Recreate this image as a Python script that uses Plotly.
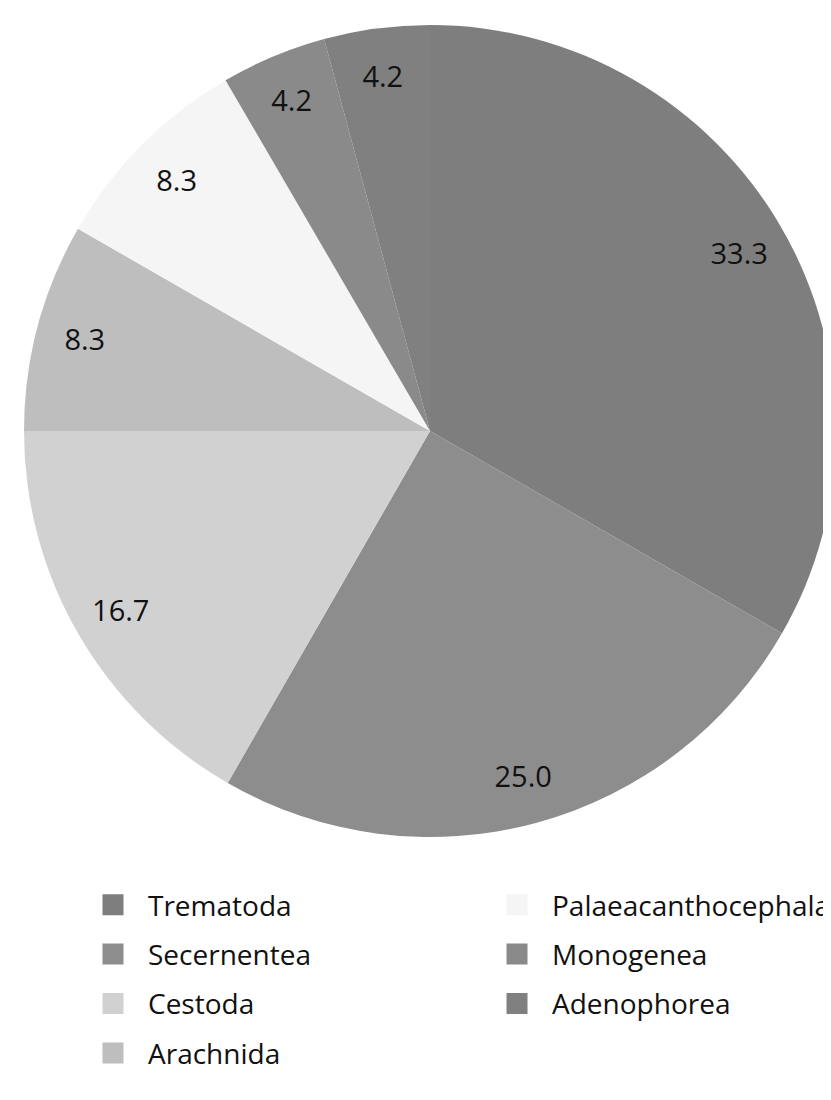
import plotly.graph_objects as go

categories = ["Trematoda", "Secernentea", "Cestoda", "Arachnida",
              "Palaeacanthocephala", "Monogenea", "Adenophorea"]
values = [33.3, 25.0, 16.7, 8.3, 8.3, 4.2, 4.2]
colors = ["#7e7e7e", "#8d8d8d", "#d1d1d1", "#bebebe", "#f5f5f5", "#8a8a8a", "#808080"]
legend_of = ["legend", "legend", "legend", "legend", "legend2", "legend2", "legend2"]

FONT = "Open Sans"
W, H = 831, 1100
# figure coordinates (page is offset by the 8px body margin)
cx, cy, r = 422, 423, 406
pie_domain = dict(x=[(cx - r) / W, (cx + r) / W],
                  y=[(H - cy - r) / H, (H - cy + r) / H])

fig = go.Figure()
# filled pie
fig.add_trace(go.Pie(
    labels=categories, values=values, sort=False, direction="clockwise",
    rotation=0, marker=dict(colors=colors, line=dict(width=0)),
    textinfo="none", showlegend=False, hoverinfo="label+value",
    domain=pie_domain,
))
# transparent ring carrying the value labels near the rim
fig.add_trace(go.Pie(
    labels=categories, values=values, sort=False, direction="clockwise",
    rotation=0, hole=0.76,
    marker=dict(colors=["rgba(0,0,0,0)"] * len(values), line=dict(width=0)),
    texttemplate="%{value:.1f}", textposition="inside",
    insidetextorientation="horizontal",
    textfont=dict(family=FONT, size=29, color="#111111"),
    showlegend=False, hoverinfo="skip",
    domain=pie_domain,
))

for name, col, lg in zip(categories, colors, legend_of):
    fig.add_trace(go.Scatter(
        x=[None], y=[None], mode="markers", name=name, legend=lg,
        legendgroup=name,
        marker=dict(symbol="square", size=16, color=col,
                    line=dict(width=5, color=col)),
    ))

legend_common = dict(
    font=dict(family=FONT, size=28, color="#111111"),
    itemwidth=60, tracegroupgap=10, bgcolor="rgba(0,0,0,0)",
    xanchor="left", yanchor="top", orientation="v",
)
fig.update_layout(
    width=W, height=H,
    margin=dict(l=0, r=0, t=0, b=0),
    paper_bgcolor="white", plot_bgcolor="white",
    xaxis=dict(visible=False), yaxis=dict(visible=False),
    legend=dict(x=70 / W, y=1 - 872 / H, **legend_common),
    legend2=dict(x=474 / W, y=1 - 872 / H, **legend_common),
)

fig.write_html("out.html")
